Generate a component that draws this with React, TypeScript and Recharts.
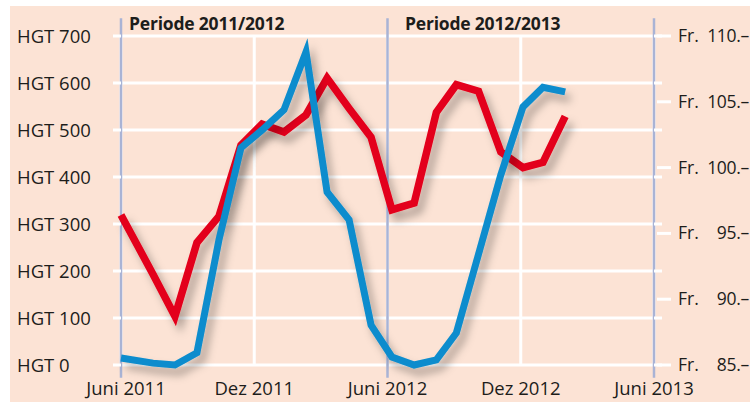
import React from "react";
import {
  CartesianGrid,
  Line,
  LineChart,
  ReferenceLine,
  XAxis,
  YAxis,
} from "recharts";

// month offsets from Juni 2011
const months = [
  0, 1.44, 2.43, 3.42, 4.41, 5.4, 6.35, 7.34, 8.33, 9.28, 10.27, 11.26, 12.2,
  13.2, 14.2, 15.1, 16.1, 17.1, 18.1, 19.0, 20.0,
];
// blue line, left axis (HGT)
const hgt = [
  15, 4, 0, 26, 266, 462, 500, 543, 666, 368, 309, 85, 17, 0, 11, 68, 236, 404,
  549, 591, 581,
];
// red line, right axis (Fr.)
const price = [
  96.4, 91.9, 88.7, 94.3, 96.3, 101.7, 103.3, 102.7, 104.0, 106.8, 104.5,
  102.3, 96.8, 97.3, 104.2, 106.3, 105.8, 101.2, 100.0, 100.4, 103.9,
];

const xTicks = [0, 6, 12, 18, 24];
const xLabels = ["Juni 2011", "Dez 2011", "Juni 2012", "Dez 2012", "Juni 2013"];
const periodLines = [0, 12, 24];
const hgtTicks = [0, 100, 200, 300, 400, 500, 600, 700];
const frTicks = [85, 90, 95, 100, 105, 110];
const periods = ["Periode 2011/2012", "Periode 2012/2013"];

const data = months.map((m, i) => ({ m, hgt: hgt[i], price: price[i] }));

const FONT = "'Open Sans', sans-serif";
const TEXT = "#1d1d1b";
const PEACH = "#fce3d5";
const FS = 18.5;

const LeftTick = (props: any) => {
  const { y, payload } = props;
  return (
    <g>
      <line x1={113} x2={121} y1={y} y2={y} stroke="#fff" strokeWidth={3} />
      <line x1={654} x2={662} y1={y} y2={y} stroke="#fff" strokeWidth={3} />
      <text
        x={17}
        y={y}
        dy={6.5}
        fill={TEXT}
        fontSize={FS}
        fontFamily={FONT}
        textAnchor="start"
      >
        {`HGT ${payload.value}`}
      </text>
    </g>
  );
};

const RightTick = (props: any) => {
  const { y, payload } = props;
  return (
    <g>
      <line x1={657} x2={671} y1={y} y2={y} stroke="#fff" strokeWidth={3} />
      <text x={678} y={y} dy={6} fill={TEXT} fontSize={17.5} fontFamily={FONT}>
        Fr.
      </text>
      <text
        x={749}
        y={y}
        dy={6}
        fill={TEXT}
        fontSize={17.5}
        fontFamily={FONT}
        textAnchor="end"
        letterSpacing={-0.3}
      >
        {`${payload.value}.–`}
      </text>
    </g>
  );
};

const BottomTick = (props: any) => {
  const { x, payload, index } = props;
  return (
    <text
      x={x + (index === 0 ? 5 : 0)}
      y={395}
      fill={TEXT}
      fontSize={FS}
      fontFamily={FONT}
      textAnchor="middle"
    >
      {xLabels[xTicks.indexOf(payload.value)]}
    </text>
  );
};

export default function App() {
  return (
    <div
      style={{
        position: "absolute",
        left: 0,
        top: 0,
        width: 750,
        height: 402,
        background: "#fff",
      }}
    >
      <svg width={0} height={0} style={{ position: "absolute" }}>
        <defs>
          <filter id="shadow" x="-20%" y="-20%" width="140%" height="140%">
            <feDropShadow
              dx={5}
              dy={7}
              stdDeviation={4}
              floodColor="#000"
              floodOpacity={0.3}
            />
          </filter>
        </defs>
      </svg>
      <div
        style={{
          position: "absolute",
          left: 10,
          top: 6,
          width: 740,
          height: 396,
          background: PEACH,
        }}
      />
      <div style={{ position: "absolute", left: 0, top: 0 }}>
        <LineChart
          width={750}
          height={402}
          data={data}
          margin={{ top: 36, right: 0, bottom: 0, left: 0 }}
        >
          <CartesianGrid
            yAxisId="hgt"
            stroke="#fff"
            strokeWidth={3}
            horizontalValues={hgtTicks}
            verticalValues={xTicks}
          />
          <XAxis
            dataKey="m"
            type="number"
            domain={[0, 24]}
            ticks={xTicks}
            height={37}
            axisLine={false}
            tickLine={false}
            tick={<BottomTick />}
            interval={0}
          />
          <YAxis
            yAxisId="hgt"
            domain={[0, 700]}
            ticks={hgtTicks}
            width={121}
            axisLine={false}
            tickLine={false}
            tick={<LeftTick />}
            interval={0}
          />
          <YAxis
            yAxisId="fr"
            orientation="right"
            domain={[85, 110]}
            ticks={frTicks}
            width={96}
            axisLine={false}
            tickLine={false}
            tick={<RightTick />}
            interval={0}
          />
          {periodLines.map((p) => (
            <ReferenceLine
              key={p}
              yAxisId="hgt"
              segment={[
                { x: p, y: -27 },
                { x: p, y: 738 },
              ]}
              ifOverflow="visible"
              stroke="#a9b3d5"
              strokeWidth={2.5}
            />
          ))}
          <Line
            yAxisId="fr"
            type="linear"
            dataKey="price"
            stroke="#e3001b"
            strokeWidth={7.5}
            dot={false}
            activeDot={false}
            filter="url(#shadow)"
            isAnimationActive={false}
          />
          <Line
            yAxisId="hgt"
            type="linear"
            dataKey="hgt"
            stroke="#0a8ccd"
            strokeWidth={7}
            dot={false}
            activeDot={false}
            filter="url(#shadow)"
            isAnimationActive={false}
          />
        </LineChart>
      </div>
      {periods.map((p, i) => (
        <div
          key={p}
          style={{
            position: "absolute",
            left: i === 0 ? 129 : 405,
            top: 11,
            fontFamily: FONT,
            fontWeight: 700,
            fontSize: 17.5,
            letterSpacing: -0.2,
            color: TEXT,
            whiteSpace: "nowrap",
            lineHeight: "24px",
          }}
        >
          {p}
        </div>
      ))}
    </div>
  );
}
